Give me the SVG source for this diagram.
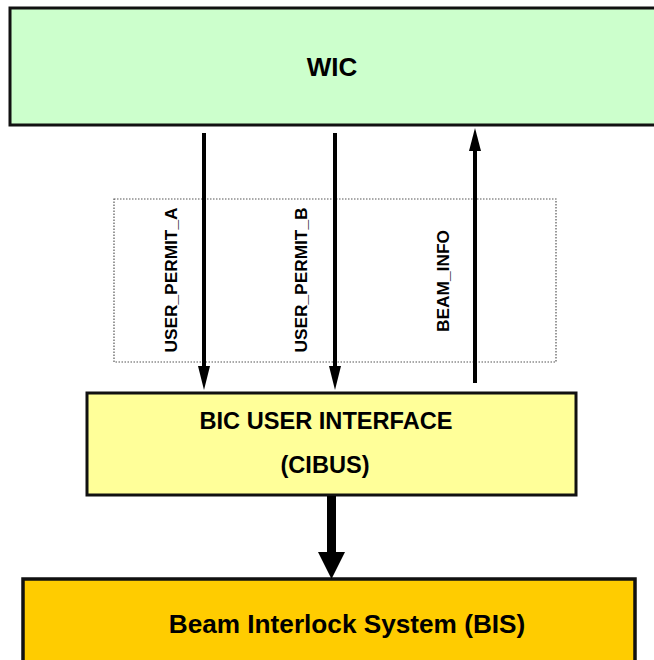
<svg xmlns="http://www.w3.org/2000/svg" width="654" height="660" viewBox="0 0 654 660">
<style>
text{font-family:"Liberation Sans",Arial,sans-serif;font-weight:bold;fill:#000}
.box{stroke:#111;stroke-width:3}
.sig{font-size:17.3px}
.ln{stroke:#000;stroke-width:4;fill:none}
</style>
<rect width="654" height="660" fill="#fff"/>
<g id="wic"><rect class="box" x="10" y="8" width="660" height="117" fill="#CCFFCC"/><text x="332" y="76" font-size="26" text-anchor="middle">WIC</text></g>
<g id="signals"><rect x="114" y="199" width="442" height="163" fill="none" stroke="#555" stroke-width="1.2" stroke-dasharray="1.5,1.5"/>
<text class="sig" transform="translate(177,280) rotate(-90)" text-anchor="middle">USER_PERMIT_A</text>
<text class="sig" transform="translate(307,280) rotate(-90)" text-anchor="middle">USER_PERMIT_B</text>
<text class="sig" transform="translate(449,281) rotate(-90)" text-anchor="middle">BEAM_INFO</text></g>
<g id="bic"><rect class="box" x="87" y="393" width="489" height="102" fill="#FFFF99"/><text x="326" y="429" font-size="23.6" text-anchor="middle">BIC USER INTERFACE</text><text x="325" y="473" font-size="23.6" text-anchor="middle">(CIBUS)</text></g>
<g id="bis"><rect x="23" y="579" width="612" height="100" fill="#FFCC00" stroke="#111" stroke-width="3.5"/><text x="347" y="633" font-size="26.2" text-anchor="middle">Beam Interlock System (BIS)</text></g>
<g id="connectors">
<path d="M204,133 V367" class="ln"/><path d="M198,366 L210,366 L204,390 Z"/>
<path d="M335,133 V367" class="ln"/><path d="M329,366 L341,366 L335,390 Z"/>
<path d="M475,383 V150" class="ln"/><path d="M469,151 L481,151 L475,128 Z"/>
<path d="M331.5,496 V553" stroke="#000" stroke-width="9"/><path d="M318,552 L345,552 L331.5,579 Z"/>
</g>
</svg>
